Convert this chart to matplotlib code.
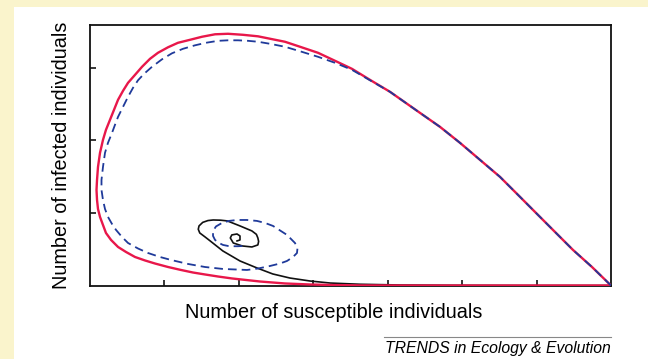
import matplotlib.pyplot as plt
from matplotlib.patches import Rectangle
from matplotlib.lines import Line2D

plt.rcParams['font.family'] = ['Liberation Sans', 'DejaVu Sans']

# punti: suscettibili (x) e infetti (y), unita' = una tacca
red_s = [7.000, 6.745, 6.490, 6.262, 6.047, 5.779, 5.510, 5.242, 4.973, 4.705,
         4.436, 4.034, 3.765, 3.523, 3.295, 3.067, 2.826, 2.624, 2.262, 2.060,
         1.859, 1.685, 1.510, 1.349, 1.188, 1.054, 0.919, 0.812, 0.705, 0.611,
         0.517, 0.450, 0.383, 0.329, 0.275, 0.221, 0.181, 0.141, 0.114, 0.101,
         0.094, 0.101, 0.114, 0.141, 0.181, 0.221, 0.289, 0.383, 0.490, 0.611,
         0.745, 0.879, 1.054, 1.228, 1.389, 1.550, 1.725, 1.913, 2.101, 2.289,
         2.624, 2.960, 3.295, 3.631, 4.436, 7.000]
red_i = [0.000, 0.255, 0.490, 0.724, 0.945, 1.221, 1.497, 1.731, 1.966, 2.186,
         2.379, 2.669, 2.834, 2.986, 3.097, 3.207, 3.290, 3.359, 3.434, 3.455,
         3.469, 3.462, 3.428, 3.386, 3.345, 3.283, 3.207, 3.124, 3.014, 2.903,
         2.793, 2.683, 2.559, 2.421, 2.283, 2.145, 2.007, 1.828, 1.634, 1.455,
         1.317, 1.179, 1.055, 0.945, 0.834, 0.724, 0.628, 0.531, 0.462, 0.393,
         0.345, 0.303, 0.255, 0.214, 0.179, 0.152, 0.124, 0.097, 0.076, 0.055,
         0.028, 0.014, 0.006, 0.001, 0.000, 0.000]

blue_s = [7.000, 6.745, 6.490, 6.262, 6.047, 5.779, 5.510, 5.242, 4.973, 4.705,
          4.436, 4.034, 3.765, 3.523, 3.295, 3.067, 2.826, 2.624, 2.423, 2.262,
          2.128, 1.993, 1.859, 1.725, 1.564, 1.416, 1.255, 1.107, 0.973, 0.839,
          0.732, 0.651, 0.584, 0.517, 0.450, 0.383, 0.342, 0.302, 0.248, 0.208,
          0.181, 0.161, 0.161, 0.181, 0.208, 0.248, 0.302, 0.356, 0.436, 0.517,
          0.651, 0.785, 0.946, 1.094, 1.322, 1.550, 1.792, 1.953, 2.114, 2.262,
          2.423, 2.557, 2.651, 2.732, 2.785, 2.792, 2.758, 2.705, 2.651, 2.557,
          2.463, 2.356, 2.248, 2.114, 1.980, 1.872, 1.779, 1.698, 1.658, 1.658,
          1.685, 1.738, 1.792, 1.859, 1.926, 1.993, 2.060]
blue_i = [0.000, 0.255, 0.490, 0.724, 0.945, 1.221, 1.497, 1.731, 1.966, 2.186,
          2.379, 2.669, 2.828, 2.972, 3.069, 3.152, 3.228, 3.290, 3.331, 3.359,
          3.372, 3.379, 3.379, 3.372, 3.345, 3.310, 3.262, 3.200, 3.117, 3.014,
          2.917, 2.828, 2.724, 2.600, 2.462, 2.324, 2.214, 2.103, 1.966, 1.828,
          1.634, 1.455, 1.317, 1.179, 1.055, 0.945, 0.848, 0.766, 0.669, 0.586,
          0.510, 0.448, 0.393, 0.352, 0.297, 0.255, 0.228, 0.221, 0.214, 0.234,
          0.269, 0.303, 0.338, 0.393, 0.448, 0.517, 0.586, 0.641, 0.697, 0.759,
          0.821, 0.862, 0.890, 0.903, 0.903, 0.890, 0.862, 0.814, 0.752, 0.683,
          0.628, 0.586, 0.559, 0.545, 0.541, 0.541, 0.545]

black_s = [7.00, 5.91, 4.84, 4.17, 3.63, 3.23, 2.96, 2.69, 2.46, 2.25, 2.02,
           1.79, 1.62, 1.55, 1.48, 1.46, 1.47, 1.52, 1.59, 1.66, 1.76, 1.85,
           2.02, 2.18, 2.24, 2.26, 2.27, 2.26, 2.18, 2.05, 1.93, 1.89, 1.91,
           1.98, 2.02, 2.02, 1.98]
black_i = [0.000, 0.000, 0.003, 0.007, 0.017, 0.034, 0.062, 0.103, 0.159, 0.241,
           0.338, 0.476, 0.614, 0.670, 0.724, 0.775, 0.821, 0.870, 0.895, 0.903,
           0.900, 0.890, 0.821, 0.752, 0.705, 0.655, 0.607, 0.559, 0.531, 0.545,
           0.586, 0.655, 0.697, 0.710, 0.683, 0.628, 0.614]

fig = plt.figure(figsize=(6.48, 3.59), dpi=100, facecolor='white')

# bordo giallo in alto e a sinistra
giallo = '#faf4cc'
fig.add_artist(Rectangle((0, 0), 14 / 648, 1, transform=fig.transFigure,
                         facecolor=giallo, edgecolor='none', zorder=0))
fig.add_artist(Rectangle((0, 1 - 7 / 359), 1, 7 / 359, transform=fig.transFigure,
                         facecolor=giallo, edgecolor='none', zorder=0))

ax = fig.add_axes([89.5 / 648, 1 - 285.5 / 359, 521.5 / 648, 260.5 / 359])
ax.plot(black_s, black_i, color='#111111', lw=1.2, solid_joinstyle='round', zorder=2)
ax.plot(red_s, red_i, color='#e8174a', lw=1.7, solid_joinstyle='round', zorder=3)
ax.plot(blue_s, blue_i, color='#1f3a9a', lw=1.3, dashes=(4.8, 2.8), zorder=4)

ax.set_xlim(0, 7)
ax.set_ylim(0, 3.59)
ax.set_xticks(range(1, 7))
ax.set_yticks(range(1, 4))
ax.tick_params(direction='in', length=4, width=1.1, labelbottom=False, labelleft=False)
for s in ax.spines.values():
    s.set_linewidth(1.3)
    s.set_color('#111111')

fig.text(334 / 648, 1 - 313 / 359, 'Number of susceptible individuals',
         ha='center', va='center', fontsize=14.3)
fig.text(62 / 648, 1 - 155 / 359, 'Number of infected individuals',
         ha='center', va='center', rotation=90, fontsize=14.3)

fig.add_artist(Line2D([384 / 648, 611 / 648], [1 - 337 / 359, 1 - 337 / 359],
                      transform=fig.transFigure, color='#888888', lw=0.8))
fig.text(611 / 648, 1 - 353 / 359, 'TRENDS in Ecology & Evolution',
         ha='right', va='baseline', fontsize=11.3, style='italic')

fig.savefig('out.png', dpi=100, facecolor=fig.get_facecolor())
